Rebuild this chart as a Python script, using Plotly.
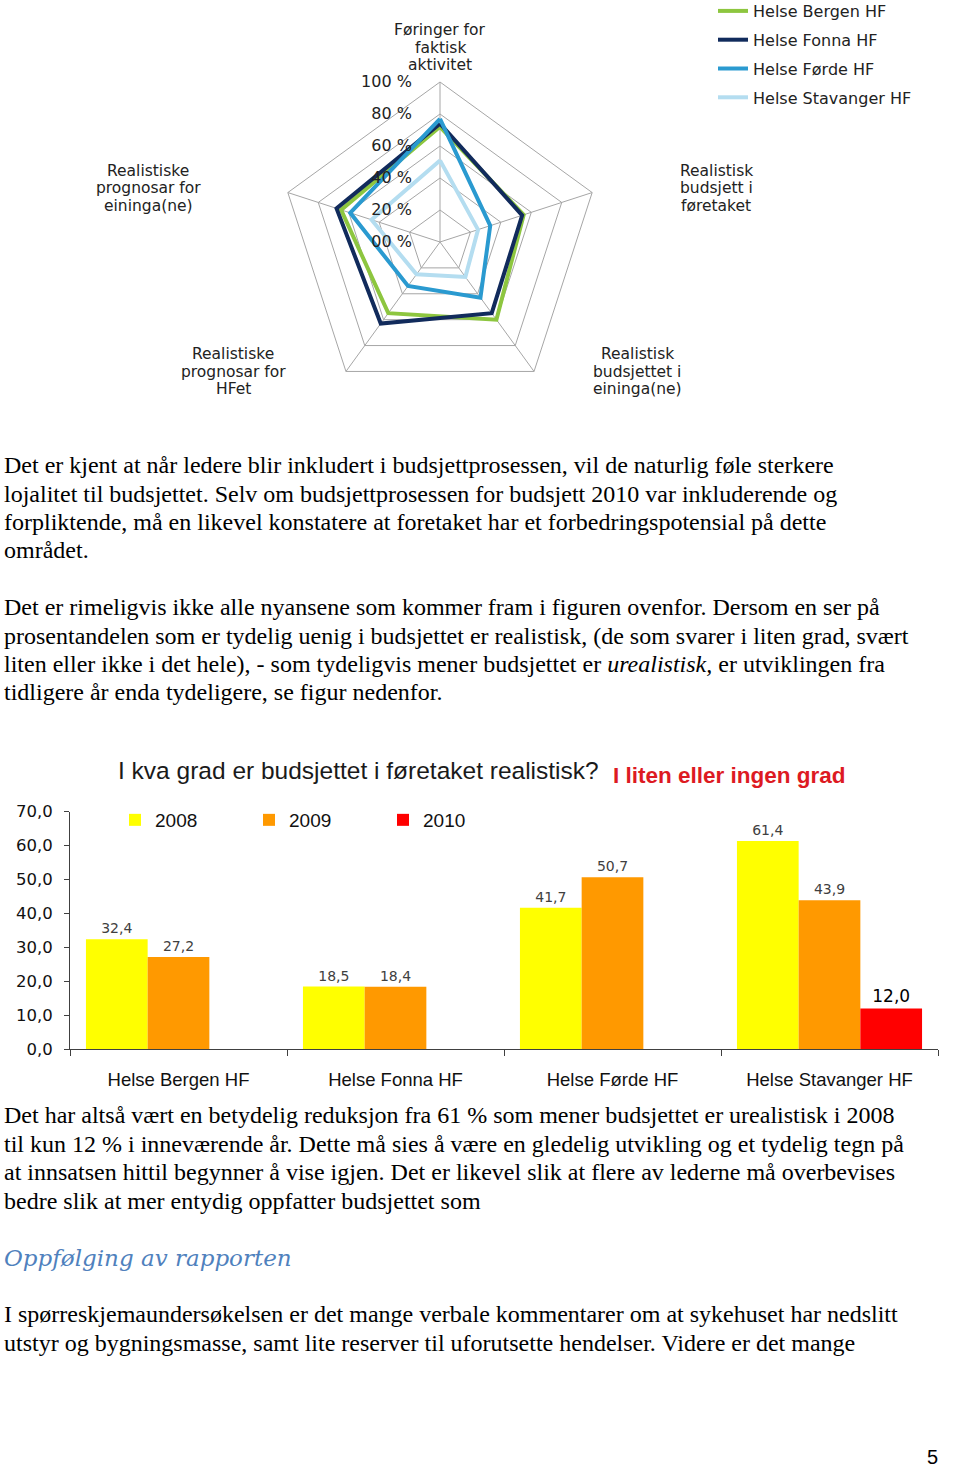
import plotly.graph_objects as go

W, H = 960, 1469

# ---------------- data ----------------
radar_axes = [
    "Føringer for<br>faktisk<br>aktivitet",
    "Realistisk<br>budsjett i<br>føretaket",
    "Realistisk<br>budsjettet i<br>eininga(ne)",
    "Realistiske<br>prognosar for<br>HFet",
    "Realistiske<br>prognosar for<br>eininga(ne)",
]
radar_tickvals = [0, 20, 40, 60, 80, 100]
radar_ticktext = ["00 %", "20 %", "40 %", "60 %", "80 %", "100 %"]
radar_names = ["Helse Bergen HF", "Helse Fonna HF", "Helse Førde HF", "Helse Stavanger HF"]
bergen_radar = [72, 55, 60, 55, 65]
fonna_radar = [74, 54, 55, 63, 68]
forde_radar = [77, 33, 43, 34, 59]
stavanger_radar = [51, 25, 27, 25, 45]

units = ["Helse Bergen HF", "Helse Fonna HF", "Helse Førde HF", "Helse Stavanger HF"]
years = ["2008", "2009", "2010"]
vals_2008 = [32.4, 18.5, 41.7, 61.4]
vals_2009 = [27.2, 18.4, 50.7, 43.9]
vals_2010 = [None, None, None, 12.0]
bar_ticks = [0, 10, 20, 30, 40, 50, 60, 70]

para1 = [
    "Det er kjent at når ledere blir inkludert i budsjettprosessen, vil de naturlig føle sterkere",
    "lojalitet til budsjettet. Selv om budsjettprosessen for budsjett 2010 var inkluderende og",
    "forpliktende, må en likevel konstatere at foretaket har et forbedringspotensial på dette",
    "området.",
]
para2 = [
    "Det er rimeligvis ikke alle nyansene som kommer fram i figuren ovenfor. Dersom en ser på",
    "prosentandelen som er tydelig uenig i budsjettet er realistisk, (de som svarer i liten grad, svært",
    "liten eller ikke i det hele), - som tydeligvis mener budsjettet er <i>urealistisk,</i> er utviklingen fra",
    "tidligere år enda tydeligere, se figur nedenfor.",
]
para3 = [
    "Det har altså vært en betydelig reduksjon fra 61 % som mener budsjettet er urealistisk i 2008",
    "til kun 12 % i inneværende år. Dette må sies å være en gledelig utvikling og et tydelig tegn på",
    "at innsatsen hittil begynner å vise igjen. Det er likevel slik at flere av lederne må overbevises",
    "bedre slik at mer entydig oppfatter budsjettet som",
]
heading = "Oppfølging av rapporten"
para4 = [
    "I spørreskjemaundersøkelsen er det mange verbale kommentarer om at sykehuset har nedslitt",
    "utstyr og bygningsmasse, samt lite reserver til uforutsette hendelser. Videre er det mange",
]
bar_title = "I kva grad er budsjettet i føretaket realistisk?"
bar_subtitle = "I liten eller ingen grad"
page_number = "5"

# ---------------- helpers ----------------
def px(x):
    return x / W

def py(y):
    return 1 - y / H

SANS = "DejaVu Sans"
ARIAL = "Liberation Sans, Arial"
SERIF = "Liberation Serif, Times New Roman"

fig = go.Figure()

# ---------------- radar ----------------
radar_series = [bergen_radar, fonna_radar, forde_radar, stavanger_radar]
radar_colors = ["#8DC63F", "#112B5C", "#2A9AD0", "#B4DDF0"]
for name, vals, col in zip(radar_names, radar_series, radar_colors):
    fig.add_trace(go.Scatterpolar(
        r=vals + vals[:1],
        theta=radar_axes + radar_axes[:1],
        mode="lines",
        name=name,
        legendgroup=name,
        line=dict(color=col, width=4),
        subplot="polar",
        legend="legend",
        hoverinfo="skip",
    ))

# ---------------- bars ----------------
bar_colors = ["#FFFF00", "#FF9900", "#FF0000"]
bar_vals = [vals_2008, vals_2009, vals_2010]
for yr, vals, col in zip(years, bar_vals, bar_colors):
    big = yr == "2010"
    fig.add_trace(go.Bar(
        x=units, y=vals, name=yr,
        marker=dict(color=col, line=dict(width=0)),
        texttemplate="%{y:.1f}",
        textposition="outside",
        constraintext="none",
        cliponaxis=False,
        textfont=dict(family=SANS, size=17 if big else 14,
                      color="#000000" if big else "#404040"),
        xaxis="x", yaxis="y",
        legend="legend2",
        hoverinfo="skip",
    ))

# ---------------- annotations ----------------
ann = []

def add_line(text, x, y, size, family, color="#000000", anchor="left"):
    ann.append(dict(text=text, x=px(x), y=py(y), xref="paper", yref="paper",
                    xanchor=anchor, yanchor="middle", showarrow=False,
                    font=dict(family=family, size=size, color=color)))

# radar category labels, one line at a time
radar_label_pos = [(440, 30), (716, 171), (637, 354), (233, 354), (148, 171)]
for lab, (x, y0) in zip(radar_axes, radar_label_pos):
    for i, part in enumerate(lab.split("<br>")):
        add_line(part, x, y0 + i * 17.5, 15.5, SANS, "#222222", "center")

add_line(bar_title, 116, 770, 24.5, ARIAL, "#1a1a1a")
add_line("<b>" + bar_subtitle + "</b>", 611, 775, 22.5, ARIAL, "#DD1A22")

def add_para(lines, first):
    for i, line in enumerate(lines):
        add_line(line, 2, first + i * 28.5, 24, SERIF)

add_para(para1, 465)
add_para(para2, 607)
add_para(para3, 1115)
add_para(para4, 1314)
add_line("<i>" + heading + "</i>", 2, 1258, 23, "DejaVu Serif", "#4F81BD")
add_line(page_number, 932, 1457, 20, ARIAL, "#000000", "center")

# ---------------- layout ----------------
R_CX, R_CY, R_R = 440, 242, 160
fig.update_layout(
    width=W, height=H,
    margin=dict(l=0, r=0, t=0, b=0, autoexpand=False),
    paper_bgcolor="white", plot_bgcolor="white",
    separators=", ",
    showlegend=True,
    polar=dict(
        domain=dict(x=[px(R_CX - R_R), px(R_CX + R_R)], y=[py(R_CY + R_R), py(R_CY - R_R)]),
        gridshape="linear",
        bgcolor="white",
        radialaxis=dict(range=[0, 100], tickvals=radar_tickvals, ticktext=radar_ticktext,
                        angle=90, side="counterclockwise", tickangle=90, showline=False,
                        gridcolor="#A6A6A6", gridwidth=1,
                        ticks="outside", ticklen=22, tickcolor="rgba(0,0,0,0)",
                        tickfont=dict(family=SANS, size=16, color="#222222")),
        angularaxis=dict(direction="clockwise", rotation=90, showticklabels=False,
                         ticks="", linecolor="#A6A6A6", linewidth=1,
                         gridcolor="#A6A6A6", gridwidth=1),
    ),
    xaxis=dict(domain=[px(70), px(938)], showline=True, linecolor="#404040", linewidth=1,
               ticks="outside", tickson="boundaries", ticklen=6, tickcolor="#404040",
               tickfont=dict(family=ARIAL, size=18.5, color="#111111"),
               ticklabelstandoff=13, showgrid=False, zeroline=False, anchor="y"),
    yaxis=dict(domain=[py(1049.3), py(811.7)], range=[0, 70], tickvals=bar_ticks,
               tickformat=".1f", showline=True, linecolor="#404040", linewidth=1,
               ticks="outside", ticklen=5, tickcolor="#404040",
               tickfont=dict(family=SANS, size=16.5, color="#111111"),
               ticklabelstandoff=8,
               showgrid=False, zeroline=False, anchor="x"),
    bargap=0.147, bargroupgap=0,
    legend=dict(x=px(713), y=py(-6), xanchor="left", yanchor="top",
                orientation="v", tracegroupgap=5, bgcolor="rgba(0,0,0,0)",
                font=dict(family=SANS, size=16, color="#222222")),
    legend2=dict(x=px(115), y=py(820), xanchor="left", yanchor="middle",
                 orientation="h", entrywidth=89, bgcolor="rgba(0,0,0,0)",
                 font=dict(family=ARIAL, size=19, color="#111111")),
    annotations=ann,
)

fig.write_html("out.html", config={"displayModeBar": False},
               post_script="document.body.style.margin='0';")
